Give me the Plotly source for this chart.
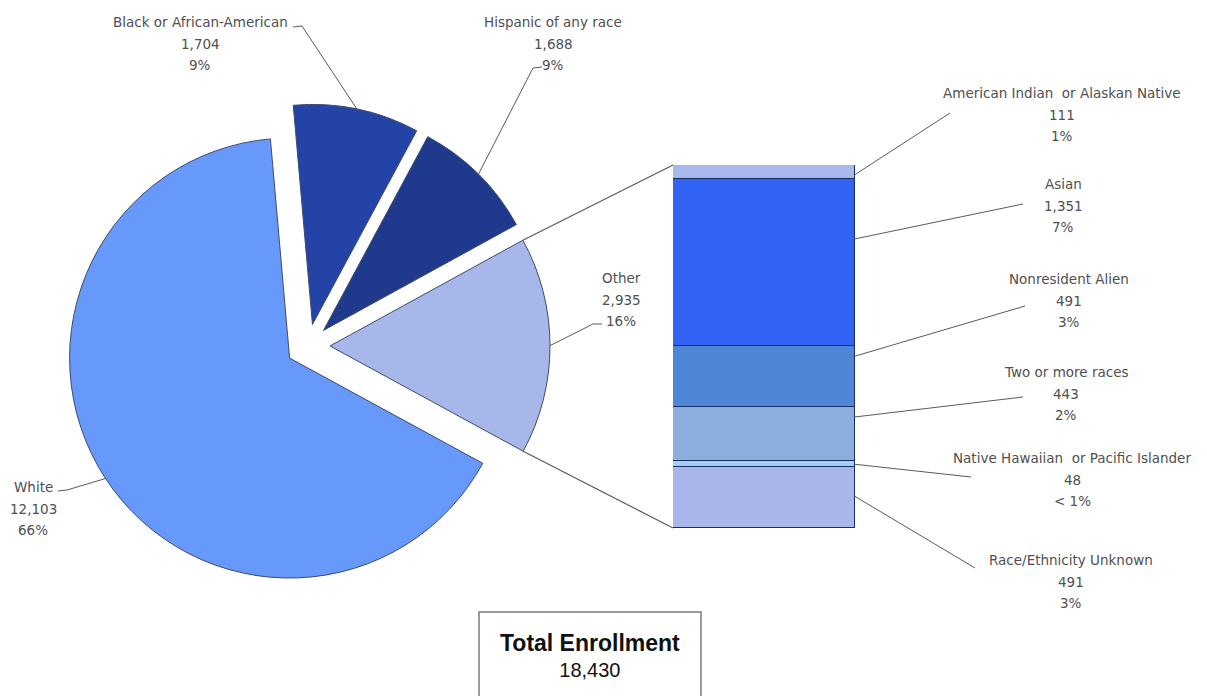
import math
import plotly.graph_objects as go

W, H = 1207, 696
OFF = 8  # page body margin: figure pixel = screen pixel - OFF

# ---------------- data ----------------
main_labels = ["Black or African-American", "Hispanic of any race", "Other", "White"]
main_values = [1704, 1688, 2935, 12103]

other_labels = ["Race/Ethnicity Unknown", "Native Hawaiian  or Pacific Islander",
                "Two or more races", "Nonresident Alien", "Asian",
                "American Indian  or Alaskan Native"]
other_values = [491, 48, 443, 491, 1351, 111]

total_title = "Total Enrollment"
total = sum(main_values)

# ---------------- styles / layout constants (screen px) ----------------
main_colors = ["#2443a6", "#1f3a8c", "#a8b7ea", "#6699fa"]
other_colors = ["#a9b6ea", "#a0d0f5", "#8caedf", "#4f87d6", "#3163f5", "#a8b8ec"]
TXT = "#505050"
LEAD = "#5a5a5a"
FONT = "DejaVu Sans"
FS = 13.5
LSP = 21.5

CX, CY, R = 308, 346, 220      # pie centre / radius
PULL = 0.1
ROT = -5
BAR_X0, BAR_X1, BAR_Y0, BAR_Y1 = 673, 855, 165, 528  # bar box

pie_label_pos = [(200, 22), (553, 22), (621, 278), (33, 487)]
pie_leader_tail = [[(293, 27), (302, 26)],
                   [(542, 67), (533, 68)],
                   [(602, 324), (593, 324)],
                   [(58, 491), (67, 490)]]
other_label_pos = [(1071, 560), (1072, 458), (1066, 372), (1069, 279), (1063, 184), (1062, 93)]
other_leader_tail = [(975, 568), (971, 477), (1023, 397), (1025, 306), (1023, 204), (950, 113)]
other_anchor_frac = [0.52, 0.5, 0.81, 0.83, 0.64, 0.3]


def pct_text(v):
    p = 100.0 * v / total
    return "< 1%" if p < 0.5 else f"{round(p):d}%"


def dvec(a):
    r = math.radians(a)
    return math.sin(r), -math.cos(r)


def slice_geom(i):
    cum = sum(main_values[:i])
    a0 = ROT + 360.0 * cum / total
    a1 = a0 + 360.0 * main_values[i] / total
    mid = (a0 + a1) / 2
    dx, dy = dvec(mid)
    apex = (CX + PULL * R * dx, CY + PULL * R * dy)
    return a0, a1, mid, apex


def arc_pt(apex, a):
    dx, dy = dvec(a)
    return apex[0] + R * dx, apex[1] + R * dy


def bar_py(v):
    return BAR_Y1 - (BAR_Y1 - BAR_Y0) * v / sum(other_values)


def px2paper_x(s):
    return (s - OFF) / W


def px2paper_y(s):
    return 1 - (s - OFF) / H


fig = go.Figure()

# ---------------- pie ----------------
half = R * (1 + PULL)
fig.add_trace(go.Pie(
    labels=main_labels, values=main_values, sort=False, direction="clockwise",
    rotation=ROT, pull=[PULL] * len(main_values), textinfo="none",
    marker=dict(colors=main_colors, line=dict(color="#3e4a6e", width=1)),
    domain=dict(x=[px2paper_x(CX - half), px2paper_x(CX + half)],
                y=[px2paper_y(CY + half), px2paper_y(CY - half)]),
    showlegend=False, hoverinfo="label+value+percent",
))

# ---------------- stacked bar ----------------
for lab, val, col in zip(other_labels, other_values, other_colors):
    fig.add_trace(go.Bar(
        x=[0], y=[val], name=lab, width=1, xaxis="x2", yaxis="y2",
        marker=dict(color=col, line=dict(color="#1d2f5e", width=1.5)),
        showlegend=False, hovertemplate=lab + ": %{y:,}<extra></extra>",
    ))


# ---------------- leader lines (screen-pixel overlay axes) ----------------
def add_line(pts, width=1, color=LEAD):
    fig.add_trace(go.Scatter(
        x=[p[0] for p in pts], y=[p[1] for p in pts], mode="lines",
        line=dict(color=color, width=width), xaxis="x3", yaxis="y3",
        hoverinfo="skip", showlegend=False))


annotations = []


def add_block(cx, y0, lines, size=FS, color=TXT):
    for k, t in enumerate(lines):
        annotations.append(dict(
            x=cx, y=y0 + k * LSP, xref="x3", yref="y3", text=t,
            showarrow=False, xanchor="center", yanchor="middle",
            font=dict(family=FONT, size=size, color=color)))


for i, lab in enumerate(main_labels):
    a0, a1, mid, apex = slice_geom(i)
    anchor = arc_pt(apex, mid)
    add_line(pie_leader_tail[i] + [anchor])
    cx, y0 = pie_label_pos[i]
    add_block(cx, y0, [lab, f"{main_values[i]:,}", pct_text(main_values[i])])

# connectors from "Other" slice to bar
oi = main_labels.index("Other")
a0, a1, mid, apex = slice_geom(oi)
add_line([arc_pt(apex, a0), (BAR_X0, bar_py(sum(other_values)))], width=1.2)
add_line([arc_pt(apex, a1), (BAR_X0, bar_py(0))], width=1.2)

cum = 0
for i, lab in enumerate(other_labels):
    v = other_values[i]
    ay = bar_py(cum + v * other_anchor_frac[i])
    cum += v
    add_line([(BAR_X1, ay), other_leader_tail[i]])
    cx, y0 = other_label_pos[i]
    add_block(cx, y0, [lab, f"{v:,}", pct_text(v)])

# total enrollment box
annotations.append(dict(
    x=590, y=655, xref="x3", yref="y3", xanchor="center", yanchor="middle",
    text="<span style='font-size:23px'><b>" + total_title + "</b></span><br>" + f"{total:,}",
    showarrow=False, font=dict(family="Liberation Sans", size=20, color="#111111")))

shapes = [dict(type="rect", xref="x3", yref="y3", x0=479, x1=701, y0=612, y1=720,
               line=dict(color="#7a7a7a", width=1.5), fillcolor="rgba(0,0,0,0)")]

fig.update_layout(
    width=W, height=H, margin=dict(l=0, r=0, t=0, b=0),
    paper_bgcolor="white", plot_bgcolor="rgba(0,0,0,0)",
    barmode="stack", bargap=0,
    xaxis2=dict(domain=[px2paper_x(BAR_X0), px2paper_x(BAR_X1)], range=[-0.5, 0.5],
                visible=False, anchor="y2", fixedrange=True),
    yaxis2=dict(domain=[px2paper_y(BAR_Y1), px2paper_y(BAR_Y0)], range=[0, sum(other_values)],
                visible=False, anchor="x2", fixedrange=True),
    xaxis3=dict(domain=[0, 1], range=[OFF, W + OFF], visible=False, anchor="y3", fixedrange=True),
    yaxis3=dict(domain=[0, 1], range=[H + OFF, OFF], visible=False, anchor="x3", fixedrange=True),
    annotations=annotations, shapes=shapes,
)

fig.write_html("out.html")
